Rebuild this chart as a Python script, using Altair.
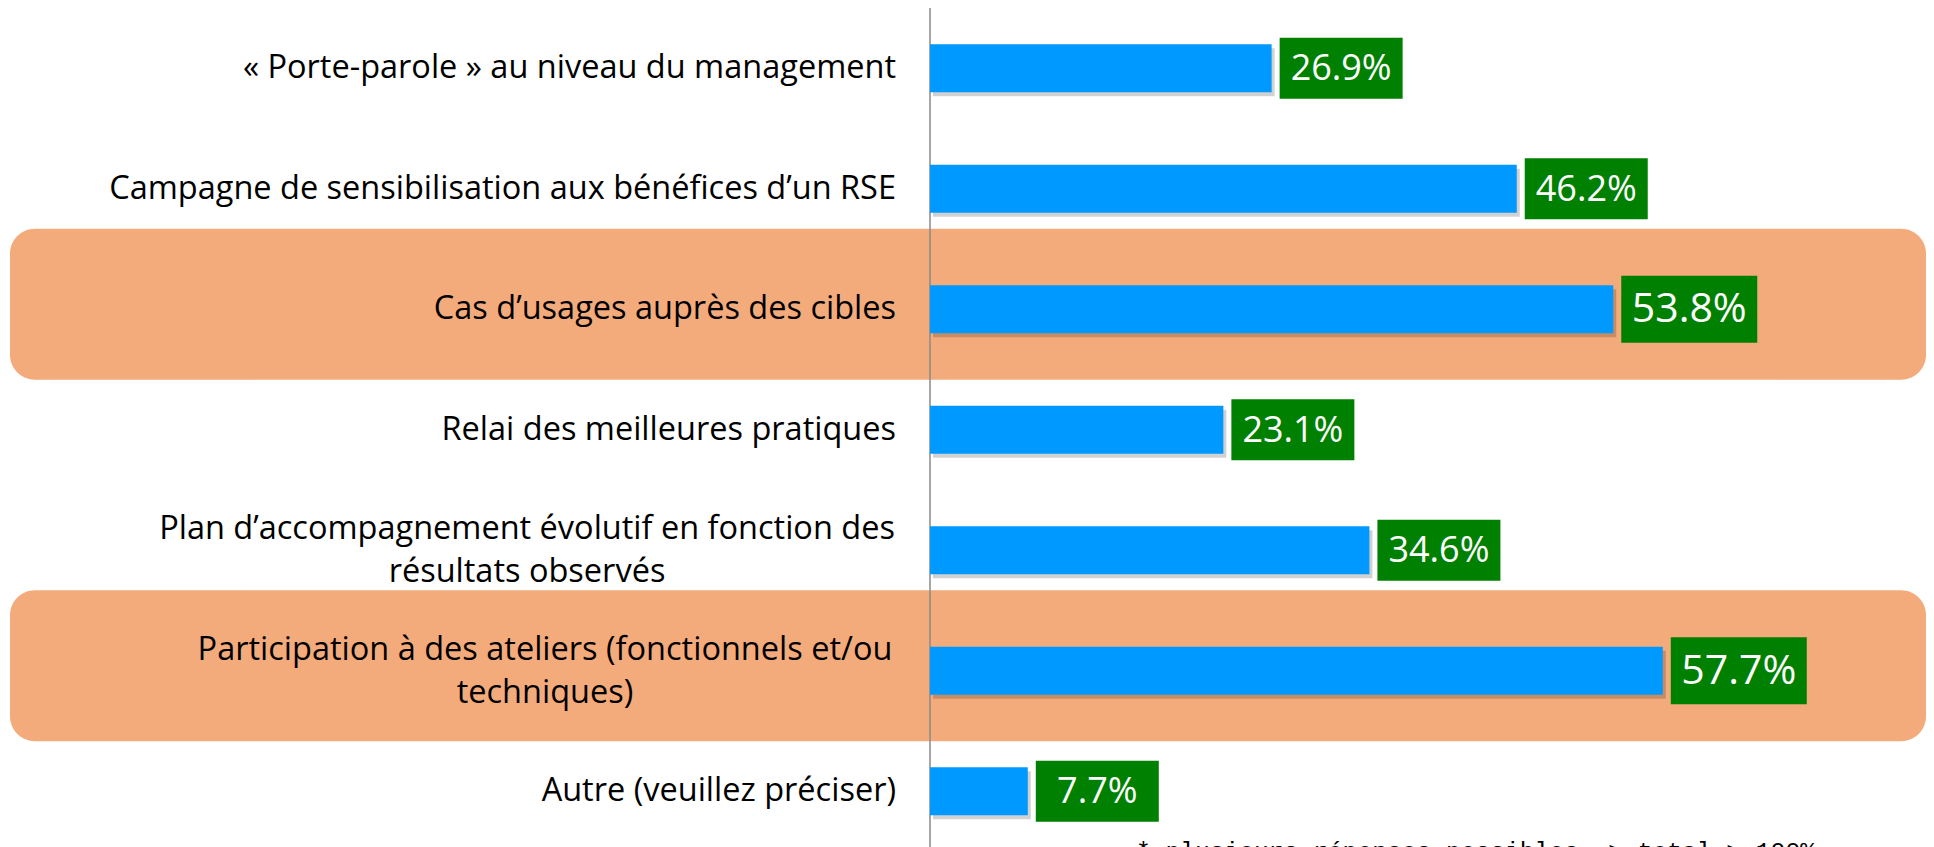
import altair as alt
import pandas as pd

# ---- data ----
categories = [
    "« Porte-parole » au niveau du management",
    "Campagne de sensibilisation aux bénéfices d’un RSE",
    "Cas d’usages auprès des cibles",
    "Relai des meilleures pratiques",
    "Plan d’accompagnement évolutif en fonction des\nrésultats observés",
    "Participation à des ateliers (fonctionnels et/ou\ntechniques)",
    "Autre (veuillez préciser)",
]
values = [26.9, 46.2, 53.8, 23.1, 34.6, 57.7, 7.7]
highlighted = [False, False, True, False, False, True, False]
footnote = "* plusieurs réponses possibles => total > 100%"

# ---- layout ----
W, H = 1918, 850
AXIS_X = 922
PX_PER_PCT = 12.7
x_domain = [-AXIS_X / PX_PER_PCT, (W - AXIS_X) / PX_PER_PCT]
LABEL_RIGHT = 888
multi_centers = {categories[4]: 519, categories[5]: 537}

df = pd.DataFrame({"cat": categories, "value": values, "hl": highlighted})
df["label"] = df["value"].map(lambda v: f"{v:.1f}%")

xs = alt.Scale(domain=x_domain, range=[0, W], nice=False, zero=False)
ys = alt.Scale(type="band", domain=categories, range=[0, 843.5],
               paddingInner=0.6, paddingOuter=0.3)
Y = alt.Y("cat:N", scale=ys, axis=None)
X = alt.X("value:Q", scale=xs, axis=None)

base = alt.Chart(df)

bands = base.transform_filter(alt.datum.hl).mark_bar(
    size=151, cornerRadius=25, color="#F4AB7B", yOffset=-5
).encode(x=alt.value(2), x2=alt.value(W), y=Y)

axis_line = alt.Chart(pd.DataFrame({"z": [0]})).mark_rule(
    color="#8a8a8a", strokeWidth=1.5
).encode(x=alt.X(datum=0, scale=xs, axis=None), y=alt.value(0), y2=alt.value(H))

shadow = base.mark_bar(color="#000000", opacity=0.18, size=48,
                       yOffset=4, xOffset=3, x2Offset=3).encode(
    x=X, x2=alt.X2(datum=0), y=Y)

bars = base.mark_bar(color="#0099FF", size=48).encode(
    x=X, x2=alt.X2(datum=0), y=Y)

box_n = base.transform_filter(~alt.datum.hl).mark_bar(
    color="#008000", size=61, xOffset=8, x2Offset=131
).encode(x=X, x2=alt.X2("value:Q"), y=Y)
box_h = base.transform_filter(alt.datum.hl).mark_bar(
    color="#008000", size=67, xOffset=8, x2Offset=144
).encode(x=X, x2=alt.X2("value:Q"), y=Y)

txt_n = base.transform_filter(~alt.datum.hl).mark_text(
    color="white", font="Open Sans", fontSize=36, align="center",
    baseline="middle", dx=69.5, dy=1
).encode(x=X, y=Y, text="label:N")
txt_h = base.transform_filter(alt.datum.hl).mark_text(
    color="white", font="Open Sans", fontSize=41, align="center",
    baseline="middle", dx=76, dy=1
).encode(x=X, y=Y, text="label:N")

single = base.transform_filter("indexof(datum.cat, '\\n') < 0").mark_text(
    align="right", baseline="middle", font="Open Sans", fontSize=32.5, color="#000000"
).encode(x=alt.value(LABEL_RIGHT), y=Y, text="cat:N")

multi_layers = []
for cat, cx in multi_centers.items():
    multi_layers.append(
        base.transform_filter(alt.datum.cat == cat).mark_text(
            align="center", baseline="middle", font="Open Sans", fontSize=32.5,
            color="#000000", lineBreak="\n", lineHeight=43, dy=-21
        ).encode(x=alt.value(cx), y=Y, text="cat:N")
    )

foot = alt.Chart(pd.DataFrame({"t": [footnote]})).mark_text(
    align="left", baseline="alphabetic", font="Liberation Mono", fontSize=24.6,
    color="#000000"
).encode(x=alt.value(1128), y=alt.value(851), text="t:N")

chart = alt.layer(
    bands, axis_line, shadow, bars, box_n, box_h, txt_n, txt_h, single,
    *multi_layers, foot
).properties(
    width=W, height=H, padding=0,
    autosize=alt.AutoSizeParams(type="none"),
    background="white",
).configure_view(stroke=None)

chart.save("out.html", embed_options={"renderer": "svg", "actions": False})
